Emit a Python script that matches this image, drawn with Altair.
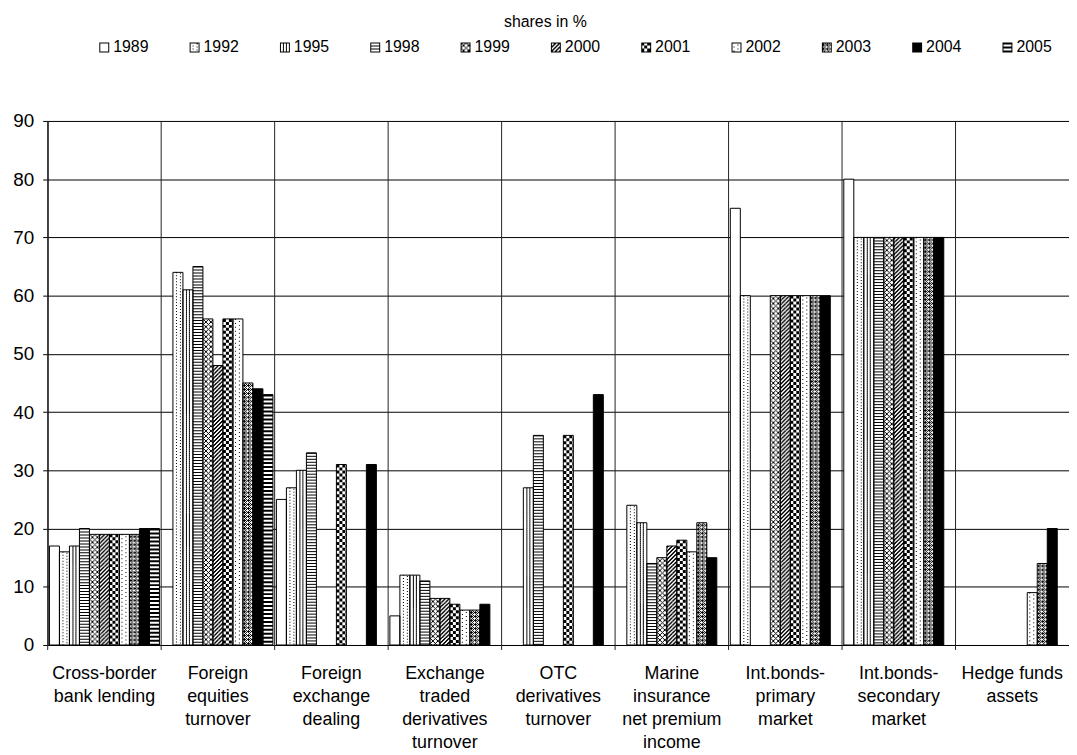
import altair as alt
import pandas as pd

# ---------------- data ----------------
categories = [
    "Cross-border|bank lending",
    "Foreign|equities|turnover",
    "Foreign|exchange|dealing",
    "Exchange|traded|derivatives|turnover",
    "OTC|derivatives|turnover",
    "Marine|insurance|net premium|income",
    "Int.bonds-|primary|market",
    "Int.bonds-|secondary|market",
    "Hedge funds|assets",
]
years = ["1989", "1992", "1995", "1998", "1999", "2000", "2001", "2002", "2003", "2004", "2005"]

y1989 = [17, None, 25, 5, None, None, 75, 80, None]
y1992 = [16, 64, 27, 12, None, 24, 60, 70, None]
y1995 = [17, 61, 30, 12, 27, 21, None, 70, None]
y1998 = [20, 65, 33, 11, 36, 14, None, 70, None]
y1999 = [19, 56, None, 8, None, 15, 60, 70, None]
y2000 = [19, 48, None, 8, None, 17, 60, 70, None]
y2001 = [19, 56, 31, 7, 36, 18, 60, 70, None]
y2002 = [19, 56, None, 6, None, 16, 60, 70, 9]
y2003 = [19, 45, None, 6, None, 21, 60, 70, 14]
y2004 = [20, 44, 31, 7, 43, 15, 60, 70, 20]
y2005 = [20, 43, None, None, None, None, None, None, None]

series = [y1989, y1992, y1995, y1998, y1999, y2000, y2001, y2002, y2003, y2004, y2005]
rows = []
for yr, vals in zip(years, series):
    for cat, v in zip(categories, vals):
        if v is not None:
            rows.append({"cat": cat, "year": yr, "value": v})
df = pd.DataFrame(rows)
cat_df = pd.DataFrame({"cat": categories})

# ---------------- layout ----------------
W, H = 1029, 528
PPU = H / 90.0
FONT = "Liberation Sans"

# ---------------- monochrome fill patterns (pixel bitmaps) ----------------
patterns = {
    "1992": (lambda x, y: (x == 3 and y % 3 == 0) or (x == 7 and y % 3 == 1), 3),
    "1995": (lambda x, y: x in (3, 6), 2),
    "1998": (lambda x, y: y % 3 == 0, 3),
    "1999": (lambda x, y: (x + y) % 5 == 0 or (x - y) % 5 == 0, 5),
    "2000": (lambda x, y: (x + y) % 4 in (0, 1), 4),
    "2001": (lambda x, y: ((x // 3) + (y // 3)) % 2 == 0, 6),
    "2002": (lambda x, y: (x == 2 and y % 4 == 0) or (x == 6 and y % 4 == 2), 4),
    "2003": (lambda x, y: ((x + y) % 2 == 0 and not (x % 4 == 0 and y % 4 == 0)) or (x % 4 == 1 and y % 4 == 2), 4),
    "2005": (lambda x, y: y % 4 in (0, 1), 4),
}


def bitmap_path(fn, w, h):
    parts = []
    for r in range(h):
        c = 0
        while c < w:
            if fn(c, r):
                s = c
                while c < w and fn(c, r):
                    c += 1
                x0 = (s - w / 2) * 0.2
                y0 = (r - h / 2) * 0.2
                ww = (c - s) * 0.2
                parts.append(f"M{x0:.2f},{y0:.2f}h{ww:.2f}v0.2h{-ww:.2f}z")
            else:
                c += 1
    return "".join(parts) or "M0,0h0.01v0.01h-0.01z"


def icon(yr):
    if yr == "2004":
        fn = lambda x, y: True
    elif yr == "1989":
        fn = lambda x, y: x in (0, 9) or y in (0, 9)
    else:
        pf = patterns[yr][0]
        fn = lambda x, y, pf=pf: x in (0, 9) or y in (0, 9) or pf(x, y)
    return bitmap_path(fn, 10, 10)


icons = [icon(y) for y in years]

# ---------------- shared encodings ----------------
x_axis = alt.Axis(
    title=None, ticks=False, grid=False, domainColor="black", labelAngle=0,
    labelExpr="split(datum.label, '|')", labelFontSize=18, labelLineHeight=23,
    labelPadding=20, labelBaseline="top", labelOverlap=False, labelColor="black",
    labelFont=FONT, labelLimit=0,
)
x_scale = alt.Scale(domain=categories, paddingInner=0, paddingOuter=0)
x_enc = alt.X("cat:N", sort=categories, scale=x_scale, axis=x_axis)
xo_enc = alt.XOffset("year:N", scale=alt.Scale(domain=years, paddingInner=0, paddingOuter=0.175))
y_axis = alt.Axis(
    title=None, values=list(range(0, 91, 10)), grid=True, gridColor="black", gridOpacity=1,
    domainColor="black", tickColor="black", tickSize=5, labelFontSize=19, labelColor="black",
    labelPadding=9, labelFont=FONT,
)
y_scale = alt.Scale(domain=[0, 90], nice=False)

base = alt.Chart(df)

dividers = alt.Chart(cat_df).mark_rule(color="#222222", strokeWidth=1).encode(
    x=alt.X("cat:N", sort=categories, bandPosition=0, scale=x_scale, axis=x_axis),
    y=alt.value(0),
    y2=alt.value(H + 5),
)

bars = base.mark_bar().encode(
    x=x_enc,
    xOffset=xo_enc,
    y=alt.Y("value:Q", scale=y_scale, axis=y_axis),
    fill=alt.condition(alt.datum.year == "2004", alt.value("black"), alt.value("white")),
)

layers = [dividers, bars]

for yr, (fn, h) in patterns.items():
    p = h / PPU
    tile = bitmap_path(fn, 10, h)
    lay = (
        base.transform_filter(f"datum.year == '{yr}'")
        .transform_calculate(ks=f"sequence(0, ceil(datum.value / {p:.6f}))")
        .transform_flatten(["ks"])
        .transform_calculate(yc=f"datum.value - (datum.ks + 0.5) * {p:.6f}")
        .mark_point(shape=tile, size=100, filled=True, color="black", strokeWidth=0,
                    opacity=1, clip=True)
        .encode(x=x_enc, xOffset=xo_enc, y=alt.Y("yc:Q", scale=y_scale, axis=y_axis))
    )
    layers.append(lay)

outline = base.mark_bar(fillOpacity=0, stroke="black", strokeWidth=1).encode(
    x=x_enc, xOffset=xo_enc, y=alt.Y("value:Q", scale=y_scale, axis=y_axis),
)
layers.append(outline)

legend_layer = (
    base.transform_filter("false")
    .mark_point(filled=True, color="black", opacity=1, strokeWidth=0)
    .encode(
        x=x_enc, xOffset=xo_enc, y=alt.Y("value:Q", scale=y_scale, axis=y_axis),
        shape=alt.Shape(
            "year:N",
            scale=alt.Scale(domain=years, range=icons),
            legend=alt.Legend(
                title=None, orient="none", legendX=49, legendY=-82, direction="horizontal",
                columns=11, symbolSize=100, symbolStrokeWidth=0, symbolFillColor="black",
                symbolOpacity=1, labelFontSize=16, labelFont=FONT, labelColor="black",
                labelOffset=1, columnPadding=38, padding=0,
            ),
        ),
    )
)
layers.append(legend_layer)

chart = (
    alt.layer(*layers)
    .properties(
        width=W,
        height=H,
        padding={"left": 40, "top": 111, "right": 0, "bottom": 105},
        autosize=alt.AutoSizeParams(type="none"),
        title=alt.TitleParams(
            text="shares in %", fontSize=16, fontWeight="normal", font=FONT,
            color="black", anchor="middle", offset=10, dx=-13,
        ),
    )
    .configure(font=FONT)
    .configure_view(strokeWidth=0)
)

chart.save("out.html", embed_options={"renderer": "svg", "actions": False})
